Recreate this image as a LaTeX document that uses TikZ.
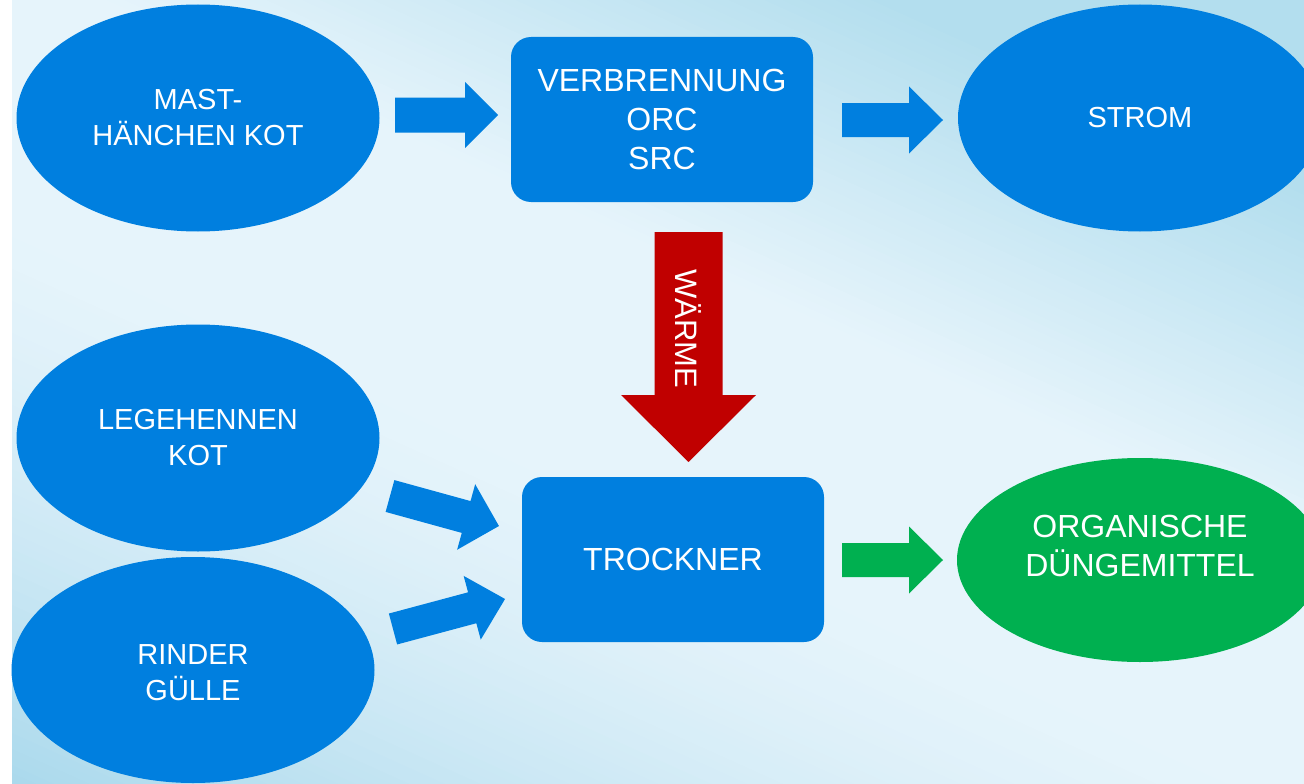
\documentclass[tikz,border=0pt]{standalone}
\usepackage{fontspec}
\setmainfont{Liberation Sans}
\usetikzlibrary{shapes.geometric}
\definecolor{nodeblue}{HTML}{007FDF}
\definecolor{dgreen}{HTML}{00B050}
\definecolor{dred}{HTML}{C00000}
\definecolor{bgtop}{HTML}{B3DEEE}
\definecolor{bgbot}{HTML}{A6D7EB}
\definecolor{bglight}{HTML}{E6F4FB}
\newcommand{\blockarr}[8]{%
  \begin{scope}[shift={(#1,#2)},rotate=#3]
    \fill[#8] (0,-#5) -- ({#4-#7},-#5) -- ({#4-#7},-#6) -- (#4,0) -- ({#4-#7},#6) -- ({#4-#7},#5) -- (0,#5) -- cycle;
  \end{scope}}
\tikzset{
  ell/.style={ellipse, fill=nodeblue, text=white, inner sep=0pt, align=center, font=\fontsize{29}{36}\selectfont},
  rbox/.style={rectangle, rounded corners=20pt, fill=nodeblue, text=white, inner sep=0pt, align=center,
    minimum width=302pt, minimum height=165pt, font=\fontsize{32}{39}\selectfont},
}
\begin{document}
\begin{tikzpicture}[x=1pt,y=-1pt]
\useasboundingbox (0,0) rectangle (1304,784);
\fill[white] (0,0) rectangle (1304,784);
\begin{scope}
  \clip (12,0) rectangle (1304,784);
  \fill[bglight] (12,0) rectangle (1304,784);
  % upper band (darker towards the top right)
  \foreach \s in {-600,-592,...,-48}{
    \pgfmathtruncatemacro{\p}{min(100,max(0,(-50-\s)/350*100))}
    \fill[bgtop!\p!bglight] (12,{0.45*12+\s}) -- (1304,{0.45*1304+\s}) -- (1304,{0.45*1304+\s+9}) -- (12,{0.45*12+\s+9}) -- cycle;
  }
  % lower band (darker towards the bottom left)
  \foreach \s in {200,208,...,800}{
    \pgfmathtruncatemacro{\p}{min(100,100*((\s-200)/600)^1.5)}
    \fill[bgbot!\p!bglight] (12,{0.45*12+\s}) -- (1304,{0.45*1304+\s}) -- (1304,{0.45*1304+\s+9}) -- (12,{0.45*12+\s+9}) -- cycle;
  }
\end{scope}

\node[ell, minimum width=363pt, minimum height=227pt] (mast) at (198,118) {MAST-\\HÄNCHEN KOT};
\node[rbox] (verb) at (662,119.5) {VERBRENNUNG\\ORC\\SRC};
\node[ell, minimum width=364pt, minimum height=227pt] (strom) at (1140,118) {STROM};
\node[ell, minimum width=363pt, minimum height=227pt] (lege) at (198,438) {LEGEHENNEN\\KOT};
\node[ell, minimum width=363pt, minimum height=226pt] (rind) at (193,670) {};
\node[font=\fontsize{29}{36}\selectfont, text=white, align=center, inner sep=0pt] (rindtxt) at (193,673) {RINDER\\GÜLLE};
\node[rbox] (trock) at (673,559.5) {TROCKNER};
\node[ell, minimum width=366pt, minimum height=204pt, fill=dgreen] (dung) at (1140,560) {};
\node[font=\fontsize{32}{39}\selectfont, text=white, align=center, inner sep=0pt] (dungtxt) at (1140,546) {ORGANISCHE\\DÜNGEMITTEL};

\blockarr{395}{115}{0}{103}{17.5}{33}{33}{nodeblue}
\blockarr{842}{120}{0}{101}{17}{33.5}{34}{nodeblue}
\blockarr{390}{496}{-15.4}{113}{16.5}{34}{34}{nodeblue}
\blockarr{393}{629}{15}{116}{16}{33}{34}{nodeblue}
\blockarr{842}{560}{0}{101}{17}{33.5}{34}{dgreen}
\blockarr{688.5}{232}{-90}{230}{34}{67.5}{67}{dred}
\node[text=white, rotate=-90, inner sep=0pt, font=\fontsize{31}{37}\selectfont] (waerme) at (688,329) {WÄRME};
\end{tikzpicture}
\end{document}
